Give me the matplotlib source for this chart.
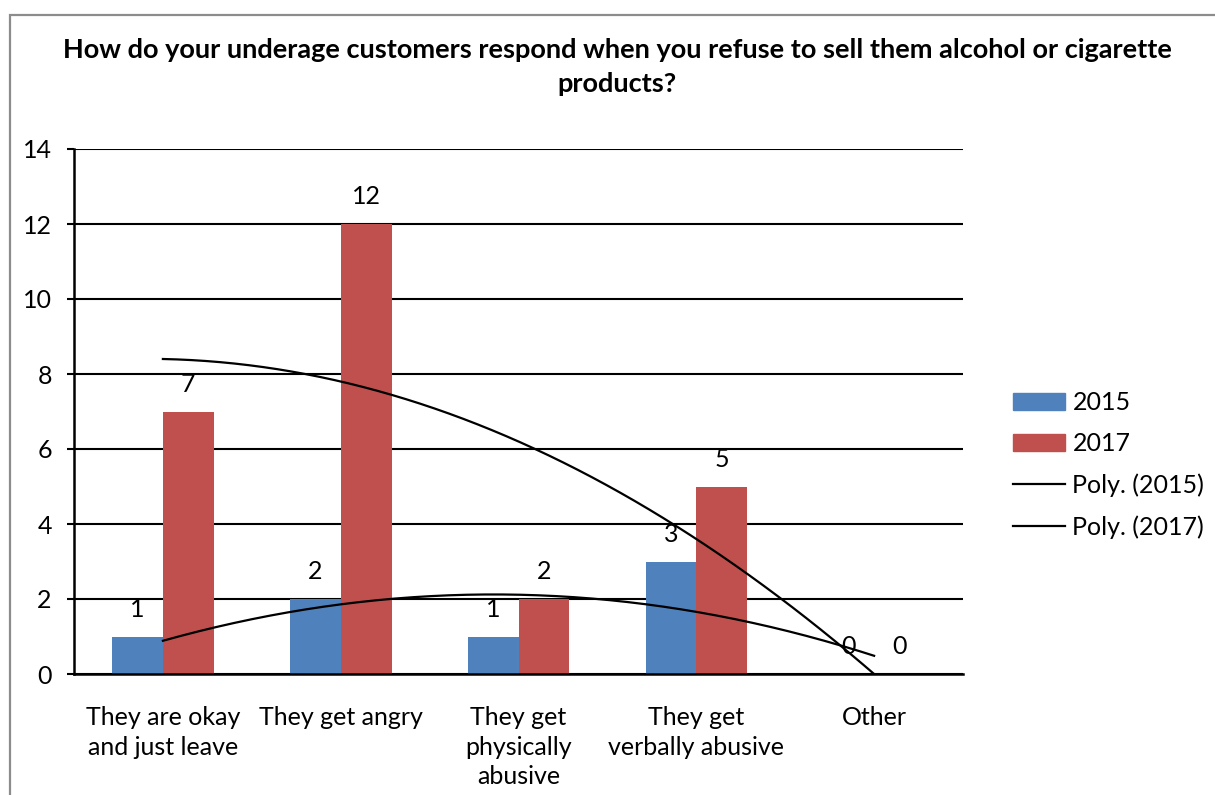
import matplotlib.pyplot as plt
import numpy as np
from matplotlib.lines import Line2D
from matplotlib.patches import Patch, Rectangle

plt.rcParams["font.family"] = ["Lato", "DejaVu Sans"]

categories = [
    "They are okay\nand just leave",
    "They get angry",
    "They get\nphysically\nabusive",
    "They get\nverbally abusive",
    "Other",
]
values_2015 = [1, 2, 1, 3, 0]
values_2017 = [7, 12, 2, 5, 0]
years = ["2015", "2017"]
colors = ["#4F81BD", "#C0504D"]
title = ("How do your underage customers respond when you refuse to sell them alcohol or cigarette\n"
         "products?")

W, H = 1215, 795
fig = plt.figure(figsize=(W / 100, H / 100), dpi=100)

# chart frame
fig.patches.append(Rectangle((10 / W, -0.05), 1.1, (H - 15) / H + 0.05,
                             transform=fig.transFigure, fill=False,
                             edgecolor="#8c8c8c", linewidth=1.6))

ax = fig.add_axes([74 / W, (H - 674) / H, (963 - 74) / W, (674 - 149) / H])

x = np.arange(len(categories))
bw = 1 / 3.5
for i, (vals, col) in enumerate(zip([values_2015, values_2017], colors)):
    offs = (i - 0.5) * bw
    ax.bar(x + offs, vals, width=bw, color=col, label=years[i], zorder=2)
    for xi, v in zip(x, vals):
        ax.text(xi + offs, v + 0.42, str(v), ha="center", va="bottom",
                fontsize=18, zorder=4)

# second-order polynomial trendlines
xs = np.linspace(0, len(categories) - 1, 200)
for vals in [values_2015, values_2017]:
    coef = np.polyfit(x, vals, 2)
    ax.plot(xs, np.polyval(coef, xs), color="black", linewidth=1.6, zorder=3)

ax.set_xlim(-0.5, len(categories) - 0.5)
ax.set_ylim(0, 14)
ax.set_yticks(range(0, 15, 2))
ax.set_xticks(x)
ax.set_xticklabels(categories, fontsize=18, linespacing=1.35)
ax.tick_params(axis="x", length=0, pad=23)
ax.tick_params(axis="y", length=5, width=1.5, direction="out", pad=11, labelsize=18)
ax.yaxis.grid(True, color="black", linewidth=1.5, zorder=0)
ax.set_axisbelow(True)
for s in ["top", "right"]:
    ax.spines[s].set_visible(False)
ax.spines["left"].set_linewidth(1.8)
ax.spines["bottom"].set_linewidth(1.8)

fig.text(617 / W, 1 - 67 / H, title, ha="center", va="center",
         fontsize=19.5, fontweight="bold", linespacing=1.45)

handles = [
    Patch(color=colors[0]),
    Patch(color=colors[1]),
    Line2D([], [], color="black", linewidth=1.6),
    Line2D([], [], color="black", linewidth=1.6),
]
labels = ["2015", "2017", "Poly. (2015)", "Poly. (2017)"]
fig.legend(handles, labels, loc="center left",
           bbox_to_anchor=(990 / W, 1 - 465 / H), frameon=False,
           fontsize=18, handlelength=2.1, handleheight=0.7,
           handletextpad=0.3, labelspacing=0.72)

fig.savefig("out.png", dpi=100)
